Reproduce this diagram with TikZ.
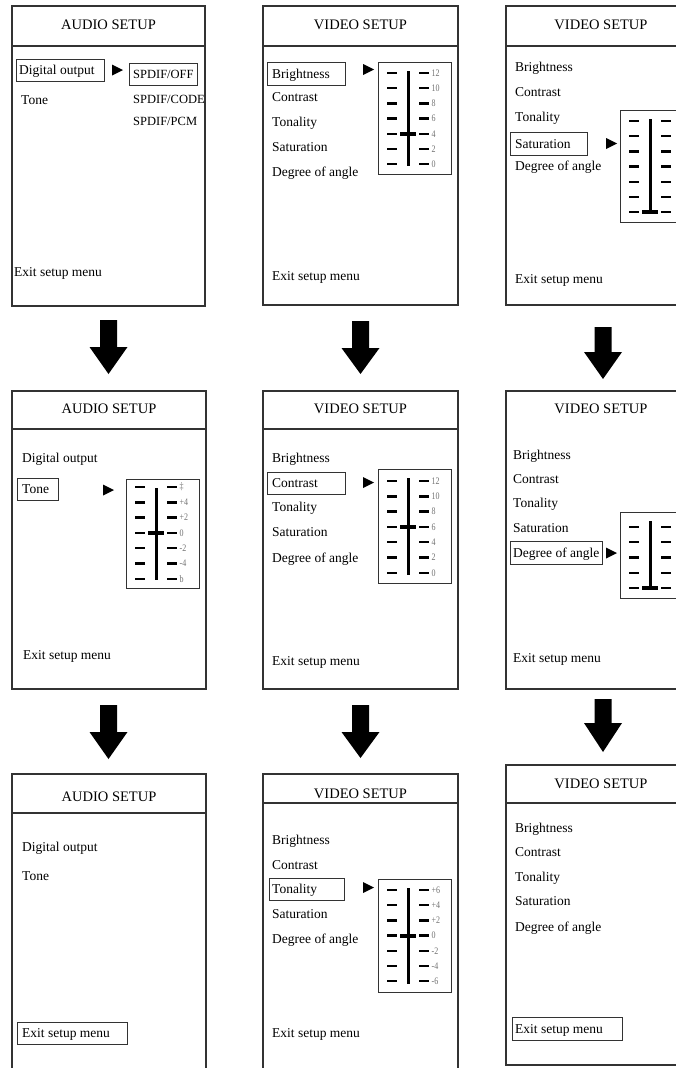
\documentclass[tikz,border=0pt]{standalone}
\usepackage{fontspec}
\setmainfont{Liberation Serif}
\newfontfamily\numfont[FakeStretch=0.8]{Liberation Serif}
\definecolor{linec}{gray}{0.2}
\definecolor{labc}{gray}{0.45}
\newcommand\tri[2]{\fill[black] (#1,#2) -- (#1+11,#2+5.5) -- (#1,#2+11) -- cycle;}
\newcommand\barrow[4]{\fill[black] (#1-8.5,#2) -- (#1+8.5,#2) -- (#1+8.5,#3) -- (#1+19,#3) -- (#1,#4) -- (#1-19,#3) -- (#1-8.5,#3) -- cycle;}
\newcommand\slidr[7]{%
  \draw[slbox] (#1,#2) rectangle (#1+73,#3);
  \draw[vbar] (#1+30.5,#2+9) -- (#1+30.5,#3-8);
  \foreach \lab [count=\i from 0] in {#7} {
    \draw[tickm] (#1+9,#4+\i*#5) -- (#1+19,#4+\i*#5);
    \draw[tickm] (#1+41,#4+\i*#5) -- (#1+51,#4+\i*#5);
    \node[numlab] (lab\i) at (#1+53.5,#4+\i*#5) {\lab};
  }
  \draw[knob] (#1+22,#4+#6*#5) -- (#1+38,#4+#6*#5);
}
\begin{document}
\begin{tikzpicture}[x=1pt,y=-1pt,
  panel/.style={draw=linec, line width=1.2pt},
  ttl/.style={font=\fontsize{14.5}{15}\selectfont, inner sep=0},
  item/.style={font=\fontsize{13.5}{14}\selectfont, inner sep=0, anchor=west, text height=12.5pt, text depth=3pt},
  spd/.style={font=\fontsize{12.5}{13}\selectfont, inner sep=0, anchor=west, text height=12pt, text depth=2.5pt},
  selrect/.style={draw=linec, line width=1pt},
  slbox/.style={draw=linec, line width=1pt},
  vbar/.style={draw=black, line width=2.4pt},
  tickm/.style={draw=black, line width=2.4pt},
  knob/.style={draw=black, line width=3.8pt},
  numlab/.style={font=\numfont\fontsize{10}{10}\selectfont, text=labc, inner sep=0, anchor=west}
]
\useasboundingbox (0,0) rectangle (676,1068);
\clip (0,0) rectangle (676,1068);
\fill[white] (0,0) rectangle (676,1068);

% ---------- Panel 1 ----------
\draw[panel] (12,6) rectangle (205,306);
\draw[panel] (12,46) -- (205,46);
\node[ttl] (t1) at (108.5,25) {AUDIO SETUP};
\draw[selrect] (16,59) rectangle (104,81);
\node[item] (p1do) at (19,70) {Digital output};
\tri{112}{64.5}
\draw[selrect] (129,63) rectangle (197,85);
\node[spd] (p1off) at (133,74) {SPDIF/OFF};
\node[spd] (p1code) at (133,99) {SPDIF/CODE};
\node[spd] (p1pcm) at (133,121) {SPDIF/PCM};
\node[item] (p1tone) at (21,100) {Tone};
\node[item] (p1exit) at (14,272) {Exit setup menu};

% ---------- Panel 2 ----------
\draw[panel] (263,6) rectangle (458,305);
\draw[panel] (263,46) -- (458,46);
\node[ttl] (t2) at (360.5,25) {VIDEO SETUP};
\draw[selrect] (267,62) rectangle (345,85);
\node[item] (p2b) at (272,73.5) {Brightness};
\node[item] (p2c) at (272,97) {Contrast};
\node[item] (p2t) at (272,122) {Tonality};
\node[item] (p2s) at (272,147) {Saturation};
\node[item] (p2d) at (272,172) {Degree of angle};
\tri{363}{64}
\slidr{378}{62}{174}{73}{15.2}{4}{12,10,8,6,4,2,0}
\node[item] (p2exit) at (272,276) {Exit setup menu};

% ---------- Panel 3 ----------
\draw[panel] (506,6) rectangle (701,305);
\draw[panel] (506,46) -- (701,46);
\node[ttl] (t3) at (601,25) {VIDEO SETUP};
\node[item] (p3b) at (515,67) {Brightness};
\node[item] (p3c) at (515,92) {Contrast};
\node[item] (p3t) at (515,117) {Tonality};
\draw[selrect] (510,132) rectangle (587,155);
\node[item] (p3s) at (515,143.5) {Saturation};
\node[item] (p3d) at (515,166) {Degree of angle};
\tri{606}{138}
\slidr{620}{110}{222}{121}{15.2}{6}{{},{},{},{},{},{},{}}
\node[item] (p3exit) at (515,279) {Exit setup menu};

% ---------- arrows row 1 ----------
\barrow{108.5}{320}{347}{374}
\barrow{360.5}{321}{348}{374}
\barrow{603}{327}{352}{379}

% ---------- Panel 4 ----------
\draw[panel] (12,391) rectangle (206,689);
\draw[panel] (12,429) -- (206,429);
\node[ttl] (t4) at (109,409) {AUDIO SETUP};
\node[item] (p4do) at (22,458) {Digital output};
\draw[selrect] (17,478) rectangle (58,500);
\node[item] (p4tone) at (22,489) {Tone};
\tri{103}{484.5}
\slidr{126}{479}{588}{487}{15.3}{3}{‡,+4,+2,0,-2,-4,b}
\node[item] (p4exit) at (23,655) {Exit setup menu};

% ---------- Panel 5 ----------
\draw[panel] (263,391) rectangle (458,689);
\draw[panel] (263,429) -- (458,429);
\node[ttl] (t5) at (360.5,409) {VIDEO SETUP};
\node[item] (p5b) at (272,458) {Brightness};
\draw[selrect] (267,472) rectangle (345,494);
\node[item] (p5c) at (272,483) {Contrast};
\node[item] (p5t) at (272,507) {Tonality};
\node[item] (p5s) at (272,532) {Saturation};
\node[item] (p5d) at (272,558) {Degree of angle};
\tri{363}{477}
\slidr{378}{469}{583}{481}{15.3}{3}{12,10,8,6,4,2,0}
\node[item] (p5exit) at (272,661) {Exit setup menu};

% ---------- Panel 6 ----------
\draw[panel] (506,391) rectangle (701,689);
\node[ttl] (t6) at (601,409) {VIDEO SETUP};
\node[item] (p6b) at (513,455) {Brightness};
\node[item] (p6c) at (513,479) {Contrast};
\node[item] (p6t) at (513,503) {Tonality};
\node[item] (p6s) at (513,528) {Saturation};
\draw[selrect] (510,541) rectangle (602,564);
\node[item] (p6d) at (513,552.5) {Degree of angle};
\tri{606}{547.5}
\slidr{620}{512}{598}{527}{15.25}{4}{{},{},{},{},{}}
\node[item] (p6exit) at (513,658) {Exit setup menu};

% ---------- arrows row 2 ----------
\barrow{108.5}{705}{732}{759}
\barrow{360.5}{705}{732}{758}
\barrow{603}{699}{723}{752}

% ---------- Panel 7 ----------
\draw[panel] (12,1080) -- (12,774) -- (206,774) -- (206,1080);
\draw[panel] (12,813) -- (206,813);
\node[ttl] (t7) at (109,797) {AUDIO SETUP};
\node[item] (p7do) at (22,847) {Digital output};
\node[item] (p7tone) at (22,876) {Tone};
\draw[selrect] (17,1022) rectangle (127,1044);
\node[item] (p7exit) at (22,1033) {Exit setup menu};

% ---------- Panel 8 ----------
\draw[panel] (263,1080) -- (263,774) -- (458,774) -- (458,1080);
\draw[panel] (263,803) -- (458,803);
\node[ttl] (t8) at (360.5,794) {VIDEO SETUP};
\node[item] (p8b) at (272,840) {Brightness};
\node[item] (p8c) at (272,865) {Contrast};
\draw[selrect] (269,878) rectangle (344,900);
\node[item] (p8t) at (272,889) {Tonality};
\node[item] (p8s) at (272,914) {Saturation};
\node[item] (p8d) at (272,939) {Degree of angle};
\tri{363}{882}
\slidr{378}{879}{992}{890}{15.2}{3}{+6,+4,+2,0,-2,-4,-6}
\node[item] (p8exit) at (272,1033) {Exit setup menu};

% ---------- Panel 9 ----------
\draw[panel] (506,765) rectangle (701,1065);
\draw[panel] (506,803) -- (701,803);
\node[ttl] (t9) at (601,784) {VIDEO SETUP};
\node[item] (p9b) at (515,828) {Brightness};
\node[item] (p9c) at (515,852) {Contrast};
\node[item] (p9t) at (515,877) {Tonality};
\node[item] (p9s) at (515,901) {Saturation};
\node[item] (p9d) at (515,927) {Degree of angle};
\draw[selrect] (512,1017) rectangle (622,1040);
\node[item] (p9exit) at (515,1028.5) {Exit setup menu};
\end{tikzpicture}
\end{document}
